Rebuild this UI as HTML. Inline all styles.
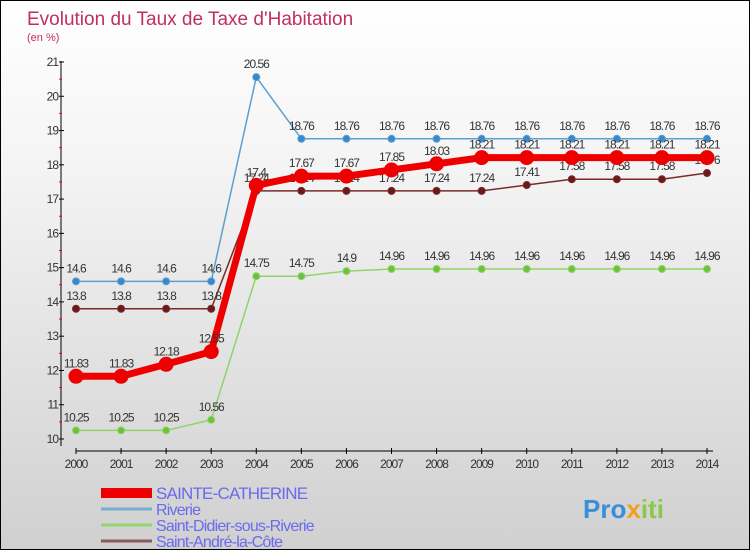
<!DOCTYPE html>
<html><head><meta charset="utf-8"><style>
body{margin:0}
#c{width:748px;height:548px;border:1px solid #000;background:linear-gradient(#fff,#f4f4f4 30%,#d0d0d0);position:relative;font-family:"Liberation Sans",sans-serif;overflow:hidden}
</style></head><body>
<div id="c">
<svg id="s" width="748" height="548" xmlns="http://www.w3.org/2000/svg"></svg>
</div>
<script>
const years=[2000,2001,2002,2003,2004,2005,2006,2007,2008,2009,2010,2011,2012,2013,2014];
const seriesNames=["SAINTE-CATHERINE","Riverie","Saint-Didier-sous-Riverie","Saint-André-la-Côte"];
const sainteCatherine=[11.83,11.83,12.18,12.55,17.4,17.67,17.67,17.85,18.03,18.21,18.21,18.21,18.21,18.21,18.21];
const riverie=[14.6,14.6,14.6,14.6,20.56,18.76,18.76,18.76,18.76,18.76,18.76,18.76,18.76,18.76,18.76];
const saintDidier=[10.25,10.25,10.25,10.56,14.75,14.75,14.9,14.96,14.96,14.96,14.96,14.96,14.96,14.96,14.96];
const saintAndre=[13.8,13.8,13.8,13.8,17.24,17.24,17.24,17.24,17.24,17.24,17.41,17.58,17.58,17.58,17.76];
const yTicks=[10,11,12,13,14,15,16,17,18,19,20,21];

const NS="http://www.w3.org/2000/svg",s=document.getElementById('s');
const X=i=>75+i*(631/14), Y=v=>438-(v-10)*(377/11);
function el(t,a,txt){const e=document.createElementNS(NS,t);for(const k in a)e.setAttribute(k,a[k]);if(txt!==undefined)e.textContent=txt;s.appendChild(e);return e;}
let e;
e=el('text',{x:26,y:24,'font-size':19,fill:'#c0305a'},'Evolution du Taux de Taxe d\'Habitation');


e=el('text',{x:26,y:40,'font-size':11,fill:'#c0305a'},'(en %)');


e=el('line',{x1:60,y1:60,x2:60,y2:445,stroke:'#000'});


e=el('line',{x1:75,y1:450,x2:712,y2:450,stroke:'#000'});


yTicks.forEach(v=>{
  el('line',{x1:58,x2:63,y1:Y(v),y2:Y(v),stroke:'#000'});
  if(v<21)el('line',{x1:58,x2:61,y1:Y(v+0.5),y2:Y(v+0.5),stroke:'#f00'});
  e=el('text',{x:57,y:Y(v)+4,'font-size':12,fill:'#333','text-anchor':'end','letter-spacing':'-1'},v);
  
  
});
years.forEach((y,i)=>{
  el('line',{x1:X(i),x2:X(i),y1:447,y2:453,stroke:'#000'});
  e=el('text',{x:X(i),y:467,'font-size':12,fill:'#333','text-anchor':'middle','letter-spacing':'-1'},y);
  
  
});
function series(vals,color,dot,lw,r,name){
  e=el('polyline',{points:vals.map((v,i)=>X(i)+','+Y(v)).join(' '),fill:'none',stroke:color,'stroke-width':lw});
  
  
  vals.forEach((v,i)=>{
    e=el('circle',{cx:X(i),cy:Y(v),r:r,fill:dot,stroke:color,'stroke-width':1});
    
    
    e=el('text',{x:X(i),y:Y(v)-9,'font-size':12,fill:'#333','text-anchor':'middle','letter-spacing':'-1'},v);
    
    
  });
}
series(saintDidier,'#8fd36a','#6cc23a',1.5,3.5,'saint-didier');
series(saintAndre,'#7a2a2a','#6a1a1a',1.5,3.5,'saint-andre');
series(riverie,'#5aa0d0','#3a88c8',1.5,3.5,'riverie');
series(sainteCatherine,'#ee0000','#ee0000',7,7,'sainte-catherine');
const lg=[['#ee0000',10],['#7aaed0',3],['#90d870',3],['#8a5a5a',3]];
lg.forEach((l,i)=>{
  const y=492+i*16;
  e=el('line',{x1:100,x2:151,y1:y,y2:y,stroke:l[0],'stroke-width':l[1]});
  
  
  e=el('text',{x:155,y:y+6,'font-size':i==0?17:16,fill:'#6a6aee','letter-spacing':'-0.8'},seriesNames[i]);
  
  
});
e=el('text',{x:582,y:517,'font-size':26,'font-weight':'bold','letter-spacing':'0'},'');


e.innerHTML='<tspan fill="#3a8ed8">Pro</tspan><tspan fill="#f0a020">x</tspan><tspan fill="#8cc84a">iti</tspan>';
</script>
</body></html>
